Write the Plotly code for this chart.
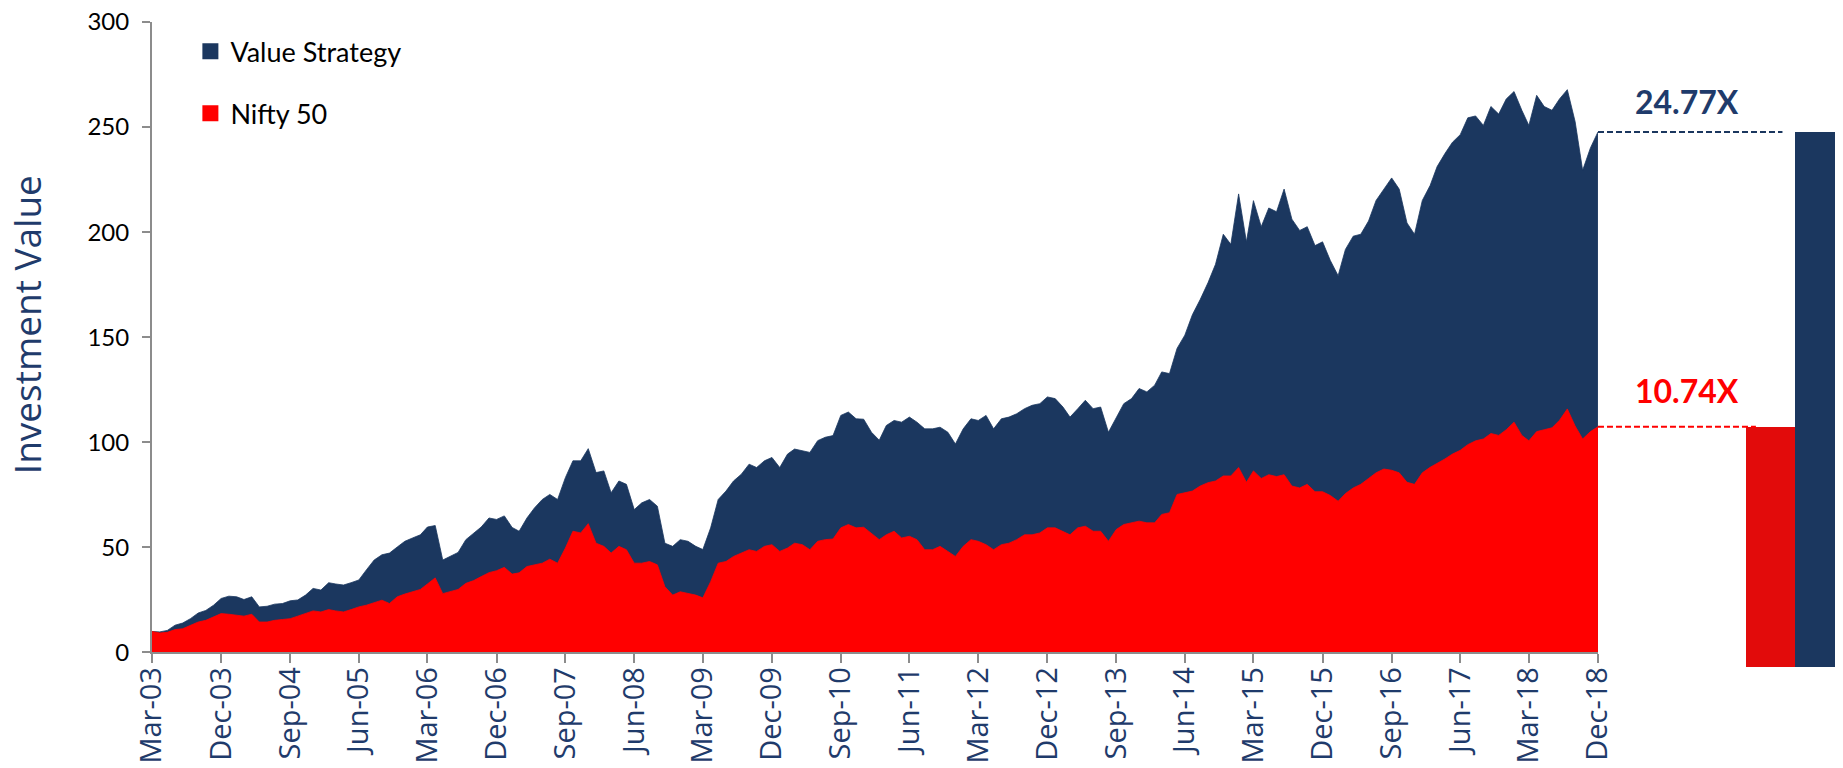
import plotly.graph_objects as go
import pandas as pd

# ---------------- data ----------------
start_month = "2003-03-01"

value_strategy = [
    10, 9.8, 10.5, 13, 14, 16.1, 18.8, 20, 22.5, 25.7,
    26.8, 26.5, 25.2, 26.5, 21.7, 22, 23, 23.3, 24.6, 25,
    27.3, 30.5, 29.7, 33.2, 32.6, 32.1, 33.2, 34.5, 39.3, 44,
    46.5, 47.3, 50.2, 52.9, 54.5, 56, 59.7, 60.4, 44, 46,
    47.6, 53.7, 56.9, 59.7, 64, 63.3, 65, 59.5, 57.7, 64,
    68.8, 72.8, 75.2, 72.8, 83.2, 91.2, 91.2, 97, 85.6, 86.4,
    76, 81.6, 80, 68, 71.2, 72.8, 69.6, 52, 50.5, 53.7,
    52.9, 50.5, 49, 59.3, 72.8, 76.8, 81.6, 84.8, 89.6, 88,
    91.2, 92.8, 88, 94.4, 96.8, 96, 95.2, 100.8, 102.4, 103.2,
    112.8, 114.4, 111.2, 111, 104.8, 101, 108, 110.4, 109.6, 112,
    109.6, 106.4, 106.4, 107.2, 104.8, 99.2, 106.4, 111.2, 110.4, 112.8,
    106.4, 111.2, 112, 113.6, 116, 117.6, 118.4, 121.6, 120.8, 116.8,
    112, 116, 120, 116, 116.8, 104.8, 112, 118.4, 120.8, 125.6,
    124, 127.2, 133.5, 132.7, 144.7, 151, 160.7, 167.9, 175.9, 184.7,
    199, 194.2, 218.2, 195.4, 215, 202.6, 211.5, 209.7, 220.5, 206.2,
    200.8, 202.6, 193.6, 195.4, 186.5, 179.3, 191.8, 198.1, 199, 205.3,
    215.1, 220.5, 225.8, 220.5, 204.4, 199, 215.1, 222.2, 231.2, 237.4,
    242.8, 246.4, 254.4, 255.3, 250.8, 259.8, 256.2, 263.4, 266.9, 258,
    250.8, 265.1, 259.8, 258, 263.4, 267.8, 252.6, 229.4, 240.1, 247.7,
]

nifty50 = [
    10, 9.3, 9.6, 10.9, 11.3, 12.9, 14.5, 15.3, 16.9, 18.5,
    18.2, 17.7, 17.3, 18.2, 14.5, 14.5, 15.3, 15.7, 16.1, 17.3,
    18.5, 19.8, 19.3, 20.4, 19.8, 19.3, 20.4, 21.7, 22.5, 23.6,
    24.9, 23.3, 26.5, 27.8, 28.9, 30, 32.6, 35.5, 28, 29,
    30, 32.9, 34.2, 36.1, 38, 38.9, 40.5, 37.3, 37.9, 40.9,
    41.7, 42.5, 44.4, 42.5, 49.7, 57.7, 56.9, 61.3, 52, 50.5,
    47.3, 50.5, 48.9, 42.5, 42.5, 43.3, 41.7, 31.3, 27.3, 28.9,
    28.1, 27.3, 26, 33.7, 42.5, 43.3, 45.7, 47.3, 48.9, 48.1,
    50.5, 51.3, 48.1, 49.7, 52, 51.3, 48.9, 52.9, 53.7, 54,
    59.3, 60.9, 59.3, 59.6, 56.5, 53.7, 56, 57.7, 54.5, 55.3,
    53.7, 48.9, 48.9, 50.5, 48.1, 45.7, 50.5, 53.7, 52.9, 51.3,
    48.9, 51.3, 52, 53.7, 56, 56, 56.9, 59.3, 59.3, 57.7,
    56, 59.3, 60.1, 57.7, 57.7, 52.9, 58.5, 60.9, 61.7, 62.5,
    61.7, 61.7, 65.7, 66.5, 75.2, 76, 76.8, 79.2, 80.8, 81.6,
    84, 84, 88, 81, 86.4, 82.8, 84.6, 83.7, 84.6, 79.2,
    78.3, 80, 76.5, 76.5, 74.7, 72, 75.6, 78.3, 80, 82.8,
    85.5, 87.3, 86.7, 85.5, 81, 80, 85.5, 88.1, 89.9, 92.1,
    94.4, 96.2, 98.9, 100.7, 101.6, 104.2, 103.3, 106, 109.6, 103.3,
    100.7, 105.1, 106, 106.9, 110.5, 115.9, 107.8, 101.6, 105.1, 107.4,
]

series_names = ["Value Strategy", "Nifty 50"]
multiples = ["24.77X", "10.74X"]
y_ticks = [0, 50, 100, 150, 200, 250, 300]
tick_every_months = 9

# ---------------- styling ----------------
NAVY = "#1B375F"
RED = "#FF0000"
RED_BAR = "#E20B0B"
LABEL_NAVY = "#1F3B6B"
AXIS_GREY = "#8C8C8C"
BAR_BASE = -6.9

dates = pd.date_range(start_month, periods=len(value_strategy), freq="MS")
tick_dates = list(dates[::tick_every_months])
tick_text = [d.strftime("%b-%y") for d in tick_dates]

fig = go.Figure()

fig.add_trace(go.Scatter(
    x=dates, y=value_strategy, mode="lines", name=series_names[0],
    line=dict(color=NAVY, width=0.8), fill="tozeroy", fillcolor=NAVY,
    showlegend=False, hoverinfo="skip"))
fig.add_trace(go.Scatter(
    x=dates, y=nifty50, mode="lines", name=series_names[1],
    line=dict(color=RED, width=0.8), fill="tozeroy", fillcolor=RED,
    showlegend=False, hoverinfo="skip"))

# legend entries (square swatches)
fig.add_trace(go.Scatter(
    x=[None], y=[None], mode="markers", name=series_names[0], legendgroup="a",
    marker=dict(symbol="square", size=16, color=NAVY)))
fig.add_trace(go.Scatter(
    x=[None], y=[None], mode="markers", name=series_names[1], legendgroup="b",
    marker=dict(symbol="square", size=16, color=RED)))

# end-value comparison bars
fig.add_trace(go.Bar(
    x=[series_names[1], series_names[0]],
    y=[nifty50[-1] - BAR_BASE, value_strategy[-1] - BAR_BASE],
    base=BAR_BASE, width=1,
    marker=dict(color=[RED_BAR, NAVY], line=dict(width=0)),
    xaxis="x2", yaxis="y2", showlegend=False, hoverinfo="skip"))

X_END = 0.8551
fig.add_shape(type="line", xref="paper", yref="y", x0=X_END, x1=0.9642,
              y0=value_strategy[-1], y1=value_strategy[-1],
              line=dict(color=NAVY, width=2, dash="6px,3px"))
fig.add_shape(type="line", xref="paper", yref="y", x0=X_END, x1=0.9485,
              y0=nifty50[-1], y1=nifty50[-1],
              line=dict(color=RED, width=2, dash="6px,3px"))

fig.add_annotation(xref="paper", yref="y", x=0.9078, y=value_strategy[-1],
                   yshift=30, text=multiples[0], showarrow=False,
                   xanchor="center", yanchor="middle",
                   font=dict(family="Lato", size=32, color=LABEL_NAVY, weight="bold"))
fig.add_annotation(xref="paper", yref="y", x=0.9078, y=nifty50[-1],
                   yshift=36, text=multiples[1], showarrow=False,
                   xanchor="center", yanchor="middle",
                   font=dict(family="Lato", size=32, color=RED, weight="bold"))

fig.add_annotation(xref="paper", yref="paper", x=-0.0745, y=0.53,
                   text="Investment Value", textangle=-90, showarrow=False,
                   xanchor="center", yanchor="middle",
                   font=dict(family="Open Sans", size=37, color=LABEL_NAVY))

fig.update_layout(
    width=1835, height=760,
    margin=dict(l=144, r=0, t=14, b=101, autoexpand=False),
    paper_bgcolor="white", plot_bgcolor="white",
    showlegend=True,
    legend=dict(x=0.0227, y=0.992, xanchor="left", yanchor="top",
                font=dict(family="Lato", size=27, color="black"),
                tracegroupgap=24, bgcolor="rgba(0,0,0,0)", itemsizing="trace"),
    xaxis=dict(type="date", domain=[0, X_END], range=[dates[0], dates[-1]],
               tickvals=tick_dates, ticktext=tick_text, tickangle=-90,
               tickfont=dict(family="Open Sans", size=29, color=LABEL_NAVY),
               showline=True, linecolor=AXIS_GREY, linewidth=2,
               ticks="outside", ticklen=9, tickwidth=2, tickcolor=AXIS_GREY,
               showgrid=False, zeroline=False, anchor="y", automargin=False,
               ticklabelstandoff=-8, ticklabeloverflow="allow"),
    yaxis=dict(domain=[0.0225, 1], range=[0, 300], tickvals=y_ticks,
               tickfont=dict(family="Lato", size=24, color="black"),
               showline=True, linecolor=AXIS_GREY, linewidth=2,
               ticks="outside", ticklen=8, tickwidth=2, tickcolor=AXIS_GREY,
               showgrid=False, zeroline=False, anchor="x", automargin=False,
               ticklabelstandoff=8, ticklabeloverflow="allow"),
    xaxis2=dict(domain=[0.9426, 1], type="category", range=[-0.5, 1.5],
                visible=False, anchor="y2", automargin=False),
    yaxis2=dict(domain=[0, 1], range=[BAR_BASE, 300], visible=False,
                anchor="x2", automargin=False),
    bargap=0,
)

fig.write_html("out.html")
